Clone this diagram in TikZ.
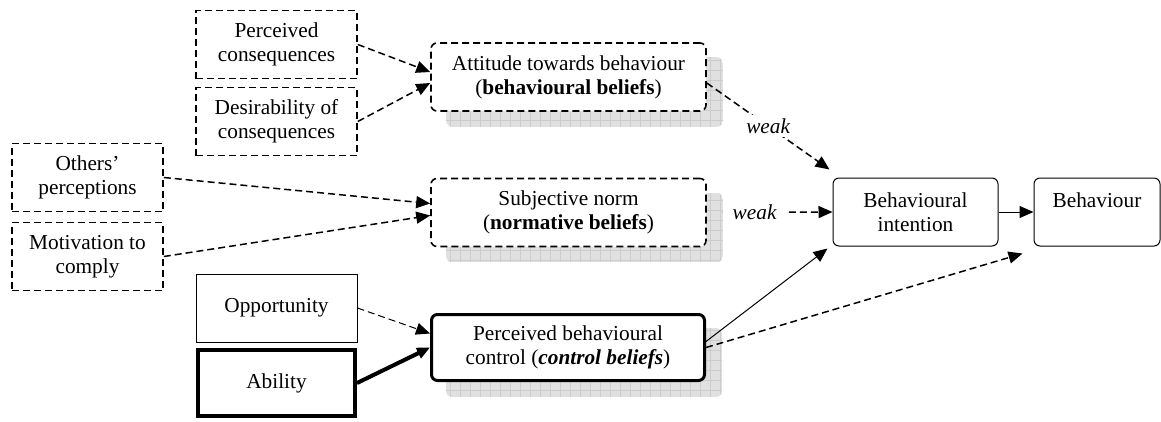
\documentclass[tikz,border=0pt]{standalone}
\usepackage{fontspec}
\setmainfont{Liberation Serif}
\usetikzlibrary{arrows.meta,backgrounds}

\newcommand{\diagfont}{\fontsize{21.3}{24}\selectfont}

\tikzset{
  box/.style={draw,fill=white,align=center,inner sep=2pt,line width=1pt},
  dashbox/.style={box,line width=1.6pt,dash pattern=on 7pt off 4pt},
  facbox/.style={minimum width=161pt,minimum height=68pt},
  midbox/.style={rounded corners=6pt,minimum width=275pt,minimum height=68pt},
  link/.style={line width=1pt,-{Triangle[length=14pt,width=12pt]}},
  dashlink/.style={link,line width=1.5pt,dash pattern=on 7pt off 4pt},
  wk/.style={fill=white,font=\diagfont\itshape,inner xsep=6pt}
}

\begin{document}
\begin{tikzpicture}[x=1pt,y=-1pt,font=\diagfont]
  \useasboundingbox (0,0) rectangle (1161,421);

  % outer factors
  \node[dashbox,facbox] (pcons) at (276.5,44.5) {Perceived\\consequences};
  \node[dashbox,facbox] (desir) at (276.5,121.5) {Desirability of\\consequences};
  \node[dashbox,facbox,minimum width=151pt] (others) at (87.5,177.5) {Others'\\perceptions};
  \node[dashbox,facbox,minimum width=151pt] (motiv) at (87.5,256.5) {Motivation to\\comply};
  \node[box,facbox] (opp) at (276.5,308) {Opportunity};
  \node[box,facbox,line width=4pt,minimum width=157pt,minimum height=66pt] (abil) at (276.5,383) {Ability};

  % beliefs
  \node[dashbox,midbox] (att) at (568.5,77) {Attitude towards behaviour\\(\textbf{behavioural beliefs})};
  \node[dashbox,midbox] (norm) at (568.5,212.5) {Subjective norm\\(\textbf{normative beliefs})};
  \node[box,midbox,line width=3pt,minimum width=273pt,minimum height=66pt] (pbc) at (568,347.5)
    {Perceived behavioural\\control (\textbf{\textit{control beliefs}})};

  \node[box,rounded corners=6pt,minimum width=165pt,minimum height=68pt] (intent) at (915.5,212) {Behavioural\\intention};
  \node[box,rounded corners=6pt,minimum width=126pt,minimum height=68pt] (behav) at (1097,212) {Behaviour\\~};

  % shadows
  \begin{scope}[on background layer]
    \foreach \n in {att,norm,pbc} {
      \begin{scope}
        \clip[rounded corners=6pt] ([shift={(16pt,-15pt)}]\n.south west) rectangle ([shift={(16pt,-15pt)}]\n.north east);
        \fill[black!12] ([shift={(16pt,-15pt)}]\n.south west) rectangle ([shift={(16pt,-15pt)}]\n.north east);
        \draw[black!20,line width=0.5pt,step=10pt] ([shift={(16pt,-15pt)}]\n.south west) grid ([shift={(16pt,-15pt)}]\n.north east);
      \end{scope}
    }
  \end{scope}

  \draw[dashlink] (pcons.east) -- ([yshift=5pt]att.west);
  \draw[dashlink] (desir.east) -- ([yshift=-6pt]att.west);
  \draw[dashlink] (others.east) -- ([yshift=9pt]norm.west);
  \draw[dashlink] (motiv.east) -- ([yshift=-3pt]norm.west);
  \draw[dashlink,line width=1pt] (opp.east) -- ([yshift=14pt]pbc.west);
  \draw[link,line width=4pt,-{Triangle[length=13pt,width=11pt]}] (abil.east) -- (pbc.west);

  \draw[dashlink] ([yshift=-6pt]att.east) -- node[wk,pos=0.5] {weak} ([shift={(-3pt,8pt)}]intent.north west);
  \draw[dashlink,shorten <=16pt] (norm.east) -- node[wk,pos=0.38,inner xsep=10pt] {weak} (intent.west);
  \draw[link] ([yshift=6pt]pbc.east) -- ([shift={(-5pt,-2pt)}]intent.south west);
  \draw[dashlink] (pbc.east) -- ([shift={(-11pt,-7pt)}]behav.south west);
  \draw[link] (intent.east) -- (behav.west);
\end{tikzpicture}
\end{document}
